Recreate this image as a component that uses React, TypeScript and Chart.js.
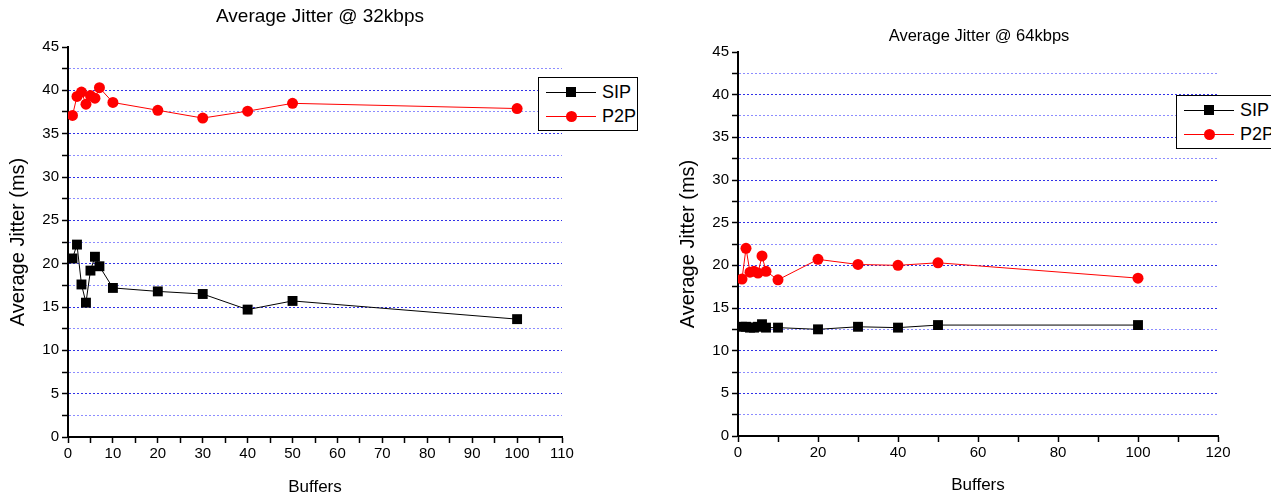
import React, { useEffect, useRef } from "react";
import { Chart, registerables } from "chart.js";

Chart.register(...registerables);

const buffers = [1, 2, 3, 4, 5, 6, 7, 10, 20, 30, 40, 50, 100];
const sip32 = [20.6, 22.2, 17.6, 15.5, 19.2, 20.8, 19.7, 17.2, 16.8, 16.5, 14.7, 15.7, 13.6];
const p2p32 = [37.1, 39.3, 39.8, 38.4, 39.4, 39.1, 40.3, 38.6, 37.7, 36.8, 37.6, 38.5, 37.9];
const sip64 = [12.8, 12.8, 12.7, 12.7, 12.8, 13.1, 12.7, 12.7, 12.5, 12.8, 12.7, 13.0, 13.0];
const p2p64 = [18.4, 22.0, 19.2, 19.3, 19.1, 21.1, 19.3, 18.3, 20.7, 20.1, 20.0, 20.3, 18.5];
const seriesNames = ["SIP", "P2P"];
const titles = ["Average Jitter @ 32kbps", "Average Jitter @ 64kbps"];
const xTitle = "Buffers";
const yTitle = "Average Jitter (ms)";

const FONT = "'Liberation Sans', Arial, sans-serif";
const MAJOR_GRID = "#3030e8";
const MINOR_GRID = "#8c8cff";

type Cfg = {
  sip: number[];
  p2p: number[];
  title: string;
  titleSize: number;
  xMax: number;
  xStep: number;
  xLabelEvery: number;
  rightSpace: number;
  yWidth: number;
  yTitlePad: number;
  xHeight: number;
  titleTop: number;
  areaTop: number;
  xTitlePad: number;
};

function makeChart(canvas: HTMLCanvasElement, c: Cfg) {
  const titleLH = c.titleSize * 1.2;
  const tTop = c.titleTop - titleLH / 2;
  return new Chart(canvas, {
    type: "line",
    data: {
      datasets: [
        {
          label: seriesNames[0],
          data: buffers.map((b, i) => ({ x: b, y: c.sip[i] })),
          borderColor: "#000000",
          backgroundColor: "#000000",
          borderWidth: 1,
          pointStyle: "rect",
          pointRadius: 7,
          pointBorderWidth: 0,
          pointBackgroundColor: "#000000",
          tension: 0,
          yAxisID: "y",
        },
        {
          label: seriesNames[1],
          data: buffers.map((b, i) => ({ x: b, y: c.p2p[i] })),
          borderColor: "#ff0000",
          backgroundColor: "#ff0000",
          borderWidth: 1,
          pointStyle: "circle",
          pointRadius: 5.5,
          pointBorderWidth: 0,
          pointBackgroundColor: "#ff0000",
          tension: 0,
          yAxisID: "y",
        },
      ],
    },
    options: {
      animation: false,
      responsive: false,
      maintainAspectRatio: false,
      layout: { padding: 0 },
      plugins: {
        legend: { display: false },
        tooltip: { enabled: false },
        title: {
          display: true,
          text: c.title,
          color: "#000",
          font: { family: FONT, size: c.titleSize, weight: "normal" },
          padding: { top: tTop, bottom: c.areaTop - tTop - titleLH },
        },
      },
      scales: {
        x: {
          type: "linear",
          min: 0,
          max: c.xMax,
          afterFit: (s: any) => {
            s.height = c.xHeight;
          },
          ticks: {
            stepSize: c.xStep,
            autoSkip: false,
            maxRotation: 0,
            color: "#000",
            padding: 2,
            font: { family: FONT, size: 15 },
            callback: (v: any) => (Number(v) % c.xLabelEvery === 0 ? String(v) : ""),
          },
          grid: {
            drawOnChartArea: false,
            drawTicks: true,
            tickLength: 6,
            tickColor: "#000",
            tickWidth: 1.5,
          },
          border: { display: true, color: "#000", width: 2 },
          title: {
            display: true,
            text: xTitle,
            color: "#000",
            font: { family: FONT, size: 17 },
            padding: { top: 0, bottom: c.xTitlePad },
          },
        },
        y: {
          type: "linear",
          position: "left",
          min: 0,
          max: 45,
          afterFit: (s: any) => {
            s.width = c.yWidth;
          },
          ticks: {
            stepSize: 2.5,
            autoSkip: false,
            color: "#000",
            padding: 3,
            font: { family: FONT, size: 15 },
            callback: (v: any) => (Number(v) % 5 === 0 ? String(v) : ""),
          },
          grid: {
            drawOnChartArea: true,
            drawTicks: true,
            tickLength: 6,
            tickColor: "#000",
            tickWidth: 1.5,
            lineWidth: 1,
            color: (ctx: any) => {
              const v = ctx.tick ? ctx.tick.value : 0;
              if (v === 0 || v === 45) return "rgba(0,0,0,0)";
              return v % 5 === 0 ? MAJOR_GRID : MINOR_GRID;
            },
          },
          border: { display: true, color: "#000", width: 2, dash: [2, 2] },
          title: {
            display: true,
            text: yTitle,
            color: "#000",
            font: { family: FONT, size: 20 },
            padding: { top: c.yTitlePad, bottom: 0 },
          },
        },
        spacer: {
          type: "linear",
          position: "right",
          display: true,
          min: 0,
          max: 45,
          afterFit: (s: any) => {
            s.width = c.rightSpace;
          },
          ticks: { display: false },
          grid: { display: false, drawOnChartArea: false },
          border: { display: false },
          title: { display: false },
        },
      },
    } as any,
  });
}

function Legend({ left, top }: { left: number; top: number }) {
  const row = (name: string, color: string, square: boolean, y: number) => (
    <div style={{ position: "absolute", left: 0, top: y, width: 130, height: 20 }}>
      <div style={{ position: "absolute", left: 7, top: 10, width: 50, height: 1, background: color }} />
      <div
        style={{
          position: "absolute",
          left: 27,
          top: 5,
          width: square ? 10 : 11,
          height: square ? 10 : 11,
          borderRadius: square ? 0 : "50%",
          background: color,
        }}
      />
      <div
        style={{
          position: "absolute",
          left: 63,
          top: 0,
          fontFamily: FONT,
          fontSize: 18,
          lineHeight: "20px",
          color: "#000",
        }}
      >
        {name}
      </div>
    </div>
  );
  return (
    <div
      style={{
        position: "absolute",
        left,
        top,
        width: 98,
        height: 52,
        border: "1px solid #000",
        background: "#fff",
      }}
    >
      {row(seriesNames[0], "#000", true, 4)}
      {row(seriesNames[1], "#ff0000", false, 28)}
    </div>
  );
}

const RIGHT_CANVAS_W = 678;

export default function App() {
  const leftRef = useRef<HTMLCanvasElement>(null);
  const rightRef = useRef<HTMLCanvasElement>(null);

  useEffect(() => {
    const a = makeChart(leftRef.current!, {
      sip: sip32,
      p2p: p2p32,
      title: titles[0],
      titleSize: 19,
      xMax: 110,
      xStep: 5,
      xLabelEvery: 10,
      rightSpace: 640 - 562,
      yWidth: 68,
      yTitlePad: 6,
      xHeight: 497 - 437,
      titleTop: 17,
      areaTop: 47,
      xTitlePad: -1,
    });
    const b = makeChart(rightRef.current!, {
      sip: sip64,
      p2p: p2p64,
      title: titles[1],
      titleSize: 16.5,
      xMax: 120,
      xStep: 10,
      xLabelEvery: 20,
      rightSpace: RIGHT_CANVAS_W - (1218 - 640),
      yWidth: 98,
      yTitlePad: 36,
      xHeight: 497 - 436,
      titleTop: 36,
      areaTop: 52,
      xTitlePad: 1,
    });
    return () => {
      a.destroy();
      b.destroy();
    };
  }, []);

  return (
    <div
      style={{
        position: "fixed",
        left: 0,
        top: 0,
        width: 1271,
        height: 497,
        overflow: "hidden",
        background: "#fff",
      }}
    >
      <canvas ref={leftRef} width={640} height={497} style={{ position: "absolute", left: 0, top: 0, width: 640, height: 497 }} />
      <canvas
        ref={rightRef}
        width={RIGHT_CANVAS_W}
        height={497}
        style={{ position: "absolute", left: 640, top: 0, width: RIGHT_CANVAS_W, height: 497 }}
      />
      <Legend left={538} top={77} />
      <Legend left={1176} top={95} />
    </div>
  );
}
